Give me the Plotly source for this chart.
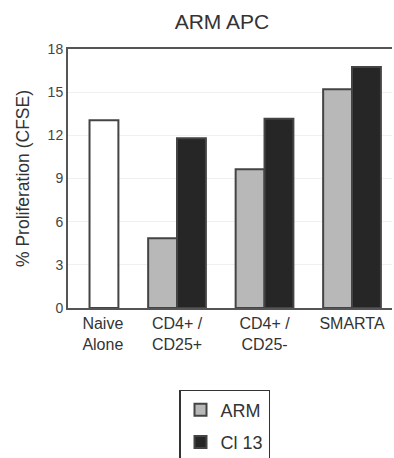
import plotly.graph_objects as go

pad = "&nbsp;" * 6
categories = [pad + "Naive<br>" + pad + "Alone", "CD4+ /<br>CD25+", "CD4+ /<br>CD25-", "SMARTA"]
arm_values = [None, 4.85, 9.65, 15.2]
cl13_values = [None, 11.8, 13.15, 16.75]
naive_values = [13.05, None, None, None]
y_ticks = [0, 3, 6, 9, 12, 15, 18]

edge = dict(color="#444444", width=2)
fig = go.Figure()
fig.add_trace(go.Bar(x=categories, y=arm_values, name="ARM", offset=-0.33, width=0.33,
                     legendgroup="a", marker=dict(color="#b8b8b8", line=edge)))
fig.add_trace(go.Bar(x=categories, y=cl13_values, name="Cl 13", offset=0, width=0.33,
                     legendgroup="b", marker=dict(color="#262626", line=edge)))
fig.add_trace(go.Bar(x=categories, y=naive_values, name="Naive", offset=0, width=0.33,
                     showlegend=False, legendgroup="c", marker=dict(color="white", line=edge)))

fig.update_layout(
    width=394, height=458,
    margin=dict(l=68, r=2, t=49, b=150, autoexpand=False),
    barmode="overlay",
    paper_bgcolor="white", plot_bgcolor="white",
    font=dict(family="Liberation Sans, Arial, sans-serif", color="#333333"),
    title=dict(text="ARM APC", x=0.475, xref="paper", xanchor="center",
               y=1 - 22 / 458, yanchor="middle", font=dict(size=21, color="#333333")),
    xaxis=dict(type="category", range=[-0.246, 3.457], showline=True, mirror=True,
               linecolor="#555555", linewidth=2, ticks="", showgrid=False,
               tickfont=dict(size=16, color="#333333")),
    yaxis=dict(range=[0, 18], tickvals=y_ticks, showline=True, linecolor="#555555",
               linewidth=2, showgrid=True, gridcolor="#f0f0f0", gridwidth=1,
               zeroline=False, ticks="", tickfont=dict(size=14, color="#444444"),
               title=dict(text="% Proliferation (CFSE)", font=dict(size=17.5, color="#333333"),
                          standoff=13)),
    legend=dict(x=0.3426, y=-0.3166, xanchor="left", yanchor="top",
                bordercolor="#333333", borderwidth=1.5, bgcolor="white",
                traceorder="grouped", tracegroupgap=6,
                font=dict(size=18, color="#333333")),
)
fig.write_html("out.html")
